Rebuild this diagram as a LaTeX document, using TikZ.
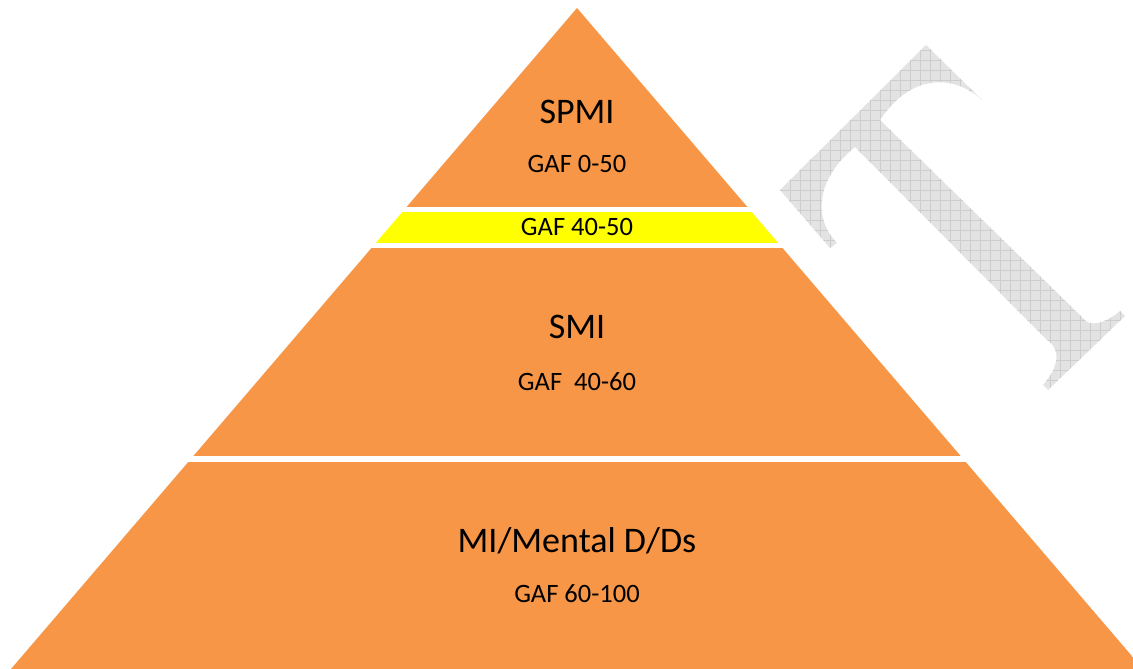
\documentclass[tikz,border=0pt]{standalone}
\usepackage{fontspec}
\setmainfont{Carlito}
\definecolor{pyrorange}{HTML}{F79646}
\definecolor{bandyellow}{HTML}{FFFF00}
\definecolor{wmfill}{HTML}{E3E3E3}
\definecolor{wmgrid}{HTML}{CDCDCD}
\begin{document}
\begin{tikzpicture}[x=1pt,y=-1pt,
  title/.style={font=\fontsize{36}{40}\selectfont, text=black, inner sep=0pt, anchor=base},
  sublabel/.style={font=\fontsize{26.5}{30}\selectfont, text=black, inner sep=0pt, anchor=base}]
\useasboundingbox (0,0) rectangle (1133,669);
% watermark letter T
\begin{scope}
  \clip (780,190) -- (926,45) -- (982,100)
    .. controls (955,75) and (912,72) .. (880,120)
    -- (1087,322) .. controls (1096,326) and (1108,321) .. (1120,311)
    -- (1125,316) -- (1048,390) -- (1043,385)
    .. controls (1058,368) and (1062,350) .. (1047,340)
    -- (855,147) .. controls (820,175) and (810,215) .. (837,243)
    -- (830,248) -- cycle;
  \fill[wmfill] (760,30) rectangle (1140,400);
  \draw[wmgrid, line width=0.6pt, step=10pt] (760,30) grid (1140,400);
\end{scope}
% pyramid bands
\begin{scope}
  \clip (577,8) -- (1143,669) -- (11,669) -- cycle;
  \fill[pyrorange] (0,0) rectangle (1133,207);
  \fill[bandyellow] (0,212) rectangle (1133,243);
  \fill[pyrorange] (0,248) rectangle (1133,456);
  \fill[pyrorange] (0,462) rectangle (1133,669);
\end{scope}
% labels
\node[title] (spmi) at (577,123) {SPMI};
\node[sublabel] (spmigaf) at (577,172) {GAF 0-50};
\node[sublabel] (bandgaf) at (577,235) {GAF 40-50};
\node[title] (smi) at (577,338) {SMI};
\node[sublabel] (smigaf) at (577,390) {GAF\ \ 40-60};
\node[title] (mi) at (577,552) {MI/Mental D/Ds};
\node[sublabel] (migaf) at (577,602) {GAF 60-100};
\end{tikzpicture}
\end{document}
